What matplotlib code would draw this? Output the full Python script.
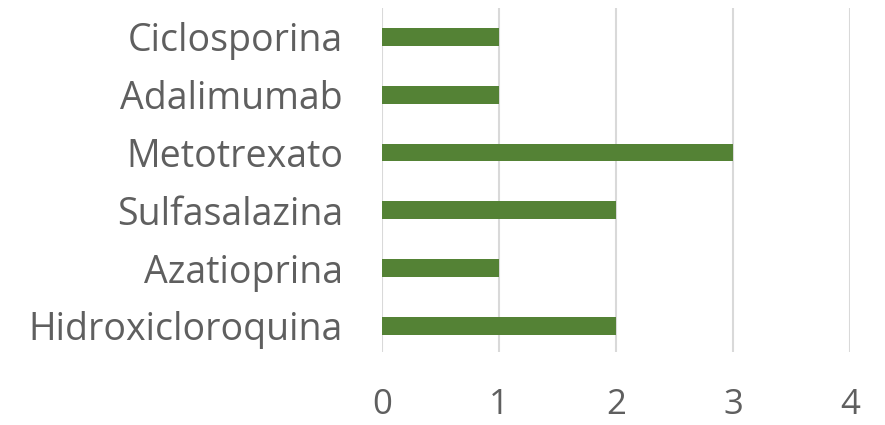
import matplotlib
matplotlib.use("Agg")
import matplotlib.pyplot as plt

# datos (de abajo hacia arriba)
farmacos = ['Hidroxicloroquina', 'Azatioprina', 'Sulfasalazina',
            'Metotrexato', 'Adalimumab', 'Ciclosporina']
pacientes = [2, 1, 2, 3, 1, 1]
ticks_x = [0, 1, 2, 3, 4]

plt.rcParams['font.family'] = ['Open Sans', 'DejaVu Sans']

fig = plt.figure(figsize=(8.85, 4.25), dpi=100)
ax = fig.add_axes([0.4316, 0.172, 0.529, 0.809])

pos = list(range(len(farmacos)))
ax.barh(pos, pacientes, height=0.31, color='#548235', zorder=3)

ax.set_xlim(0, 4)
ax.set_ylim(-0.45, 5.5)
ax.set_xticks(ticks_x)
ax.set_xticklabels([str(t) for t in ticks_x])
ax.set_yticks(pos)
ax.set_yticklabels(farmacos)

ax.grid(axis='x', color='#d9d9d9', linewidth=1.5, zorder=0)
for s in ax.spines.values():
    s.set_visible(False)

ax.tick_params(axis='y', length=0, pad=28, labelsize=27, labelcolor='#5f5f5f')
ax.tick_params(axis='x', length=0, pad=26, labelsize=25, labelcolor='#5f5f5f')

fig.savefig('out.png', dpi=100, facecolor='white')
